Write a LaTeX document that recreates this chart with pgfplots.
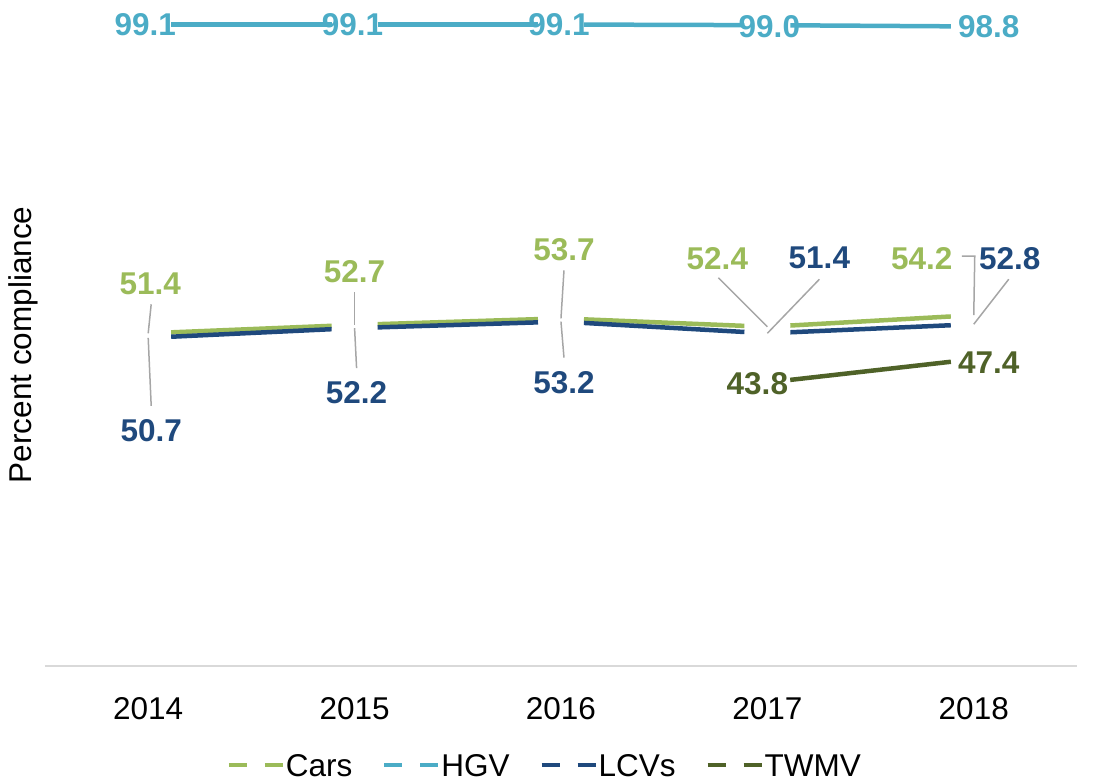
\documentclass[border=0pt]{standalone}
\usepackage{fontspec}
\setmainfont{Liberation Sans}
\usepackage{pgfplots}
\usepackage{pgfplotstable}
\pgfplotsset{compat=1.18}
\definecolor{cars}{HTML}{9BBB59}
\definecolor{hgv}{HTML}{4BACC6}
\definecolor{lcv}{HTML}{1F497D}
\definecolor{twmv}{HTML}{4F6228}
\definecolor{leader}{HTML}{A6A6A6}
\definecolor{axisgray}{HTML}{D9D9D9}
\newcommand{\bigfont}{\fontsize{31.5}{38}\selectfont}

% x = category index (0 = 2014), y = value, lab = label, dx/dy = label offset (pt)
\pgfplotstableread{
x y lab dx dy
0 51.4 51.4 2 49
1 52.7 52.7 0 53
2 53.7 53.7 3 69
3 52.4 52.4 -50 68
4 54.2 54.2 -52 57
}\cars
\pgfplotstableread{
x y lab dx dy
0 99.1 99.1 -3 0
1 99.1 99.1 -2 0
2 99.1 99.1 -2 0
3 99.0 99.0 2 -1
4 98.8 98.8 15 0
}\hgv
\pgfplotstableread{
x y lab dx dy
0 50.7 50.7 3 -93
1 52.2 52.2 2 -65
2 53.2 53.2 3 -61
3 51.4 51.4 52 75
4 52.8 52.8 36 66
}\lcv
\pgfplotstableread{
x y lab dx dy
3 43.8 43.8 -10 -1.5
4 47.4 47.4 15 -3
}\twmv

\pgfplotsset{
  seg/.style={line width=4.5pt, mark=none, forget plot,
    shorten >=23pt, shorten <=23pt},
  datalabels/.style={draw=none, mark=none, forget plot,
    nodes near coords, point meta=explicit symbolic,
    nodes near coords align={anchor=center},
    visualization depends on={\thisrow{dx} \as \dx},
    visualization depends on={\thisrow{dy} \as \dy},
    every node near coord/.append style={anchor=center, inner sep=0pt,
      xshift=\dx pt, yshift=\dy pt, font=\bfseries\bigfont, text=#1}},
}

\begin{document}
\begin{tikzpicture}
\begin{axis}[
  scale only axis, width=1032pt, height=647.3pt,
  xmin=-0.5, xmax=4.5, ymin=0, ymax=100,
  axis x line*=bottom, axis y line*=left,
  x axis line style={draw=axisgray, line width=2pt},
  y axis line style={draw=none},
  ytick=\empty,
  xtick={0,1,2,3,4}, xticklabels={2014,2015,2016,2017,2018},
  major tick length=0pt, xtick style={draw=none},
  xticklabel style={font=\bigfont, anchor=center, yshift=-42.3pt},
  ylabel={Percent compliance},
  ylabel style={font=\bigfont, at={(axis description cs:-0.0205,0.496)}, anchor=center},
  clip=false,
  legend columns=-1,
  legend style={at={(0.4835,-0.1553)}, anchor=center, draw=none, fill=none,
    inner sep=0pt, font=\bigfont, nodes={inner sep=0pt},
    /tikz/every odd column/.append style={column sep=1pt},
    /tikz/every even column/.append style={column sep=30pt}},
  legend image code/.code={\draw[#1, line width=4pt, dash pattern=on 18pt off 18pt] (0pt,1.3pt) -- (54pt,1.3pt);},
]
% legend entries
\addlegendimage{cars}\addlegendentry{Cars}
\addlegendimage{hgv}\addlegendentry{HGV}
\addlegendimage{lcv}\addlegendentry{LCVs}
\addlegendimage{twmv}\addlegendentry{TWMV}
% line segments, each stopping short of the points
\pgfplotsinvokeforeach{0:1,1:2,2:3,3:4}{
  \addplot[seg, cars] table[x=x,y=y,restrict x to domain=#1]{\cars};
}
\pgfplotsinvokeforeach{0:1,1:2,2:3,3:4}{
  \addplot[seg, hgv] table[x=x,y=y,restrict x to domain=#1]{\hgv};
}
\pgfplotsinvokeforeach{0:1,1:2,2:3,3:4}{
  \addplot[seg, lcv] table[x=x,y=y,restrict x to domain=#1]{\lcv};
}
\addplot[seg, twmv] table[x=x,y=y]{\twmv};
% leader lines
\begin{scope}[leader, line width=1.5pt]
\draw (axis cs:0,51.4) -- ([shift={(3pt,29pt)}]axis cs:0,51.4);
\draw (axis cs:0,50.7) -- ([shift={(3pt,-68pt)}]axis cs:0,50.7);
\draw (axis cs:1,52.7) -- ([shift={(0pt,33pt)}]axis cs:1,52.7);
\draw (axis cs:1,52.2) -- ([shift={(2pt,-40pt)}]axis cs:1,52.2);
\draw (axis cs:2,53.7) -- ([shift={(3pt,48pt)}]axis cs:2,53.7);
\draw (axis cs:2,53.2) -- ([shift={(3pt,-36pt)}]axis cs:2,53.2);
\draw (axis cs:3,52.4) -- ([shift={(-49pt,49pt)}]axis cs:3,52.4);
\draw (axis cs:3,51.4) -- ([shift={(52pt,54pt)}]axis cs:3,51.4);
\draw (axis cs:4,54.2) -- ([shift={(1pt,59pt)}]axis cs:4,54.2) -- ([shift={(-12pt,59pt)}]axis cs:4,54.2);
\draw (axis cs:4,52.8) -- ([shift={(35pt,45pt)}]axis cs:4,52.8);
\end{scope}
% data labels
\addplot[datalabels=cars] table[x=x,y=y,meta=lab]{\cars};
\addplot[datalabels=hgv] table[x=x,y=y,meta=lab]{\hgv};
\addplot[datalabels=lcv] table[x=x,y=y,meta=lab]{\lcv};
\addplot[datalabels=twmv] table[x=x,y=y,meta=lab]{\twmv};
\end{axis}
\pgfresetboundingbox
\useasboundingbox (-45pt,-116pt) rectangle (1052pt,666pt);
\end{tikzpicture}
\end{document}
